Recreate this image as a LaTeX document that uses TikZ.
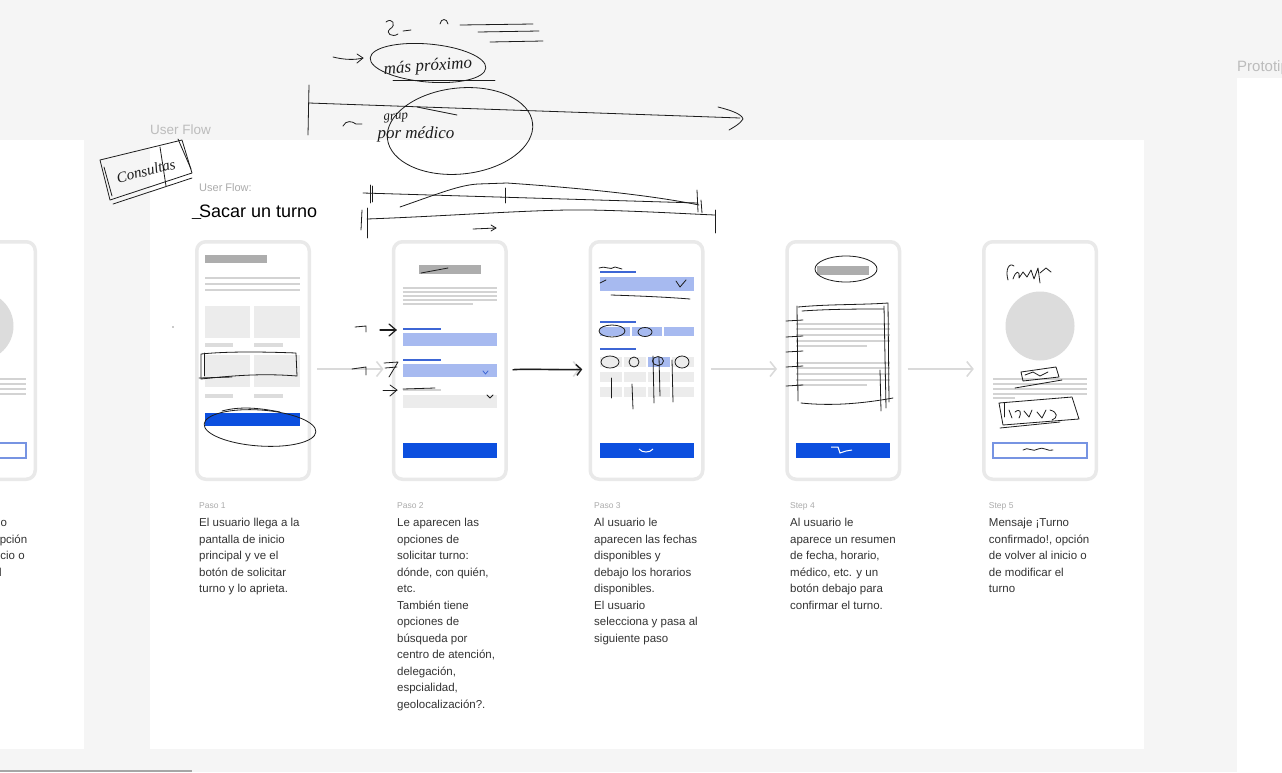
\documentclass[tikz,border=0pt]{standalone}
\usepackage{fontspec}
\setmainfont{Liberation Sans}
\newfontfamily\handfont{Liberation Serif}
\usetikzlibrary{positioning,arrows.meta,calc}
\definecolor{lienzo}{HTML}{F5F5F5}
\definecolor{borde}{HTML}{E9E9E9}
\definecolor{barra}{HTML}{ADADAD}
\definecolor{linea}{HTML}{D3D3D3}
\definecolor{caja}{HTML}{ECECEC}
\definecolor{azul}{HTML}{0C4FDF}
\definecolor{celeste}{HTML}{A7BAF0}
\definecolor{azulrotulo}{HTML}{3D66D5}
\definecolor{cuerpo}{HTML}{333333}
\definecolor{tenue}{HTML}{ABABAB}
\definecolor{flecha}{HTML}{DADADA}
\definecolor{tinta}{HTML}{1C1C1C}
\definecolor{circulo}{HTML}{DCDCDC}

\begin{document}
\begin{tikzpicture}[x=1pt,y=-1pt,
phone/.style={draw=borde,line width=3.5pt,rounded corners=9pt,fill=white,minimum width=112.5pt,minimum height=237.5pt,inner sep=0pt,outer sep=0pt},
flow/.style={-{Straight Barb[length=6pt,width=15pt]},line width=1.5pt,flecha,shorten <=8pt,shorten >=10pt},
pasolbl/.style={inner sep=0pt,anchor=base west,text=tenue,font=\fontsize{8.5}{10}\selectfont},
desc/.style={inner sep=0pt,anchor=north west,align=left,text=cuerpo,font=\fontsize{11.5}{16.5}\selectfont},
ink/.style={draw=tinta,line width=0.8pt,line cap=round,line join=round},
hand/.style={inner sep=0pt,text=tinta,font=\handfont\itshape\fontsize{17}{17}\selectfont},
fila/.style={draw=linea,line width=1.6pt}]
\clip (0,0) rectangle (1282,772);
\fill[lienzo] (0,0) rectangle (1282,772);
% marcos
\fill[white] (0,140) rectangle (84,749);
\fill[white] (150,140) rectangle (1144,749);
\fill[white] (1237,78) rectangle (1282,772);
\fill[gray!70] (0,770) rectangle (192,772);
\node[inner sep=0pt,anchor=base west,text=tenue!80,font=\fontsize{13.5}{14}\selectfont] (marco) at (150,134) {User Flow};
\node[inner sep=0pt,anchor=base west,text=tenue!80,font=\fontsize{15}{16}\selectfont] (proto) at (1237,71) {Prototipo};
\node[inner sep=0pt,anchor=base west,text=tenue,font=\fontsize{11}{12}\selectfont] (sub) at (199,191) {User Flow:};
\node[inner sep=0pt,anchor=base west,font=\fontsize{18}{20}\selectfont] (titulo) at (199,217) {Sacar un turno};

% pantallas
\node[phone] (s0) at (-21,360.5) {};
\node[phone] (s1) at (253,360.5) {};
\node[phone,right=84.25pt of s1] (s2) {};
\node[phone,right=84.25pt of s2] (s3) {};
\node[phone,right=84.25pt of s3] (s4) {};
\node[phone,right=84.25pt of s4] (s5) {};

\begin{scope}[shift={(s1.center)}]
\fill[barra] (-48,-105.5) rectangle (14,-97.5);
\foreach \y in {-82.5,-76.5,-70.5} \draw[fila,line width=2pt] (-48,\y) -- (47,\y);
\foreach \y in {-54.5,-5.5} {\fill[caja] (-48,\y) rectangle (-3,\y+32); \fill[caja] (1,\y) rectangle (47,\y+32);}
\foreach \y in {-17.5,33.5} {\fill[linea!80] (-48,\y) rectangle (-20,\y+4); \fill[linea!80] (1,\y) rectangle (30,\y+4);}
\fill[azul] (-48,52.5) rectangle (47,65.5);
\end{scope}

\begin{scope}[shift={(s2.center)}]
\fill[barra] (-31,-95.5) rectangle (31,-86.5);
\foreach \y in {-72.5,-68.5,-64.5,-60.5} \draw[fila] (-47,\y) -- (47,\y);
\draw[fila] (-47,-56.5) -- (23,-56.5);
\fill[azulrotulo] (-47,-32.5) rectangle (-9,-30.5);
\fill[celeste] (-47,-27.5) rectangle (47,-14.5);
\fill[azulrotulo] (-47,-1.5) rectangle (-9,0.5);
\fill[celeste] (-47,3.5) rectangle (47,16.5);
\fill[linea] (-47,28.5) rectangle (-9,30.5);
\fill[caja] (-47,34.5) rectangle (47,47.5);
\fill[azul] (-47,82.5) rectangle (47,97.5);
\end{scope}

\begin{scope}[shift={(s3.center)}]
\fill[azulrotulo] (-47,-89.5) rectangle (-11,-87.5);
\fill[celeste] (-47,-83.5) rectangle (47,-69.5);
\fill[azulrotulo] (-47,-39.5) rectangle (-11,-37.5);
\foreach \a/\b in {-47/-17,-15/15,17/47} \fill[celeste] (\a,-33.5) rectangle (\b,-24.5);
\fill[azulrotulo] (-47,-12.5) rectangle (-11,-10.5);
\foreach \a in {-47,-23,1,25} \foreach \y in {-3.5,11.5,26.5} \fill[caja] (\a,\y) rectangle (\a+22,\y+10);
\fill[celeste] (1,-3.5) rectangle (23,6.5);
\fill[azul] (-47,82.5) rectangle (47,97.5);
\end{scope}

\begin{scope}[shift={(s4.center)}]
\fill[barra] (-26,-94.5) rectangle (26,-85.5);
\foreach \y in {-36.5,-31.5,-25.5,-19.5,2.5,7.5,13.5,19.5} \draw[fila] (-47,\y) -- (47,\y);
\foreach \y in {-14.5,24.5} \draw[fila] (-47,\y) -- (24,\y);
\fill[azul] (-47,82.5) rectangle (47,97.5);
\end{scope}

\foreach \c in {s0,s5} {
\begin{scope}[shift={(\c.center)}]
\fill[circulo] (0,-34.5) circle (34.5);
\foreach \y in {18.5,23.5,28.5,33.5} \draw[fila] (-47,\y) -- (47,\y);
\draw[fila] (-47,37.5) -- (-25,37.5);
\draw[azulrotulo!70,line width=1.2pt,fill=white] (-47,82.5) rectangle (47,97.5);
\end{scope}}

% flechas del flujo
\draw[flow] ([yshift=-8.5pt]s1.east) -- ([yshift=-8.5pt]s2.west);
\draw[flow] ([yshift=-8.5pt]s2.east) -- ([yshift=-8.5pt]s3.west);
\draw[flow] ([yshift=-8.5pt]s3.east) -- ([yshift=-8.5pt]s4.west);
\draw[flow] ([yshift=-8.5pt]s4.east) -- ([yshift=-8.5pt]s5.west);

% textos
\node[desc] (d0) at ($(s0.south west)+(4,38.75)$) {Mensaje ¡Turno\\confirmado!, opción\\de volver al inicio o\\de modificar el\\turno};
\node[pasolbl] (p1) at ($(s1.south west)+(2.25,28.75)$) {Paso 1};
\node[desc] (d1) at ($(s1.south west)+(2.25,38.75)$) {El usuario llega a la\\pantalla de inicio\\principal y ve el\\botón de solicitar\\turno y lo aprieta.};
\node[pasolbl] (p2) at ($(s2.south west)+(3.5,28.75)$) {Paso 2};
\node[desc] (d2) at ($(s2.south west)+(3.5,38.75)$) {Le aparecen las\\opciones de\\solicitar turno:\\dónde, con quién,\\etc.\\También tiene\\opciones de\\búsqueda por\\centro de atención,\\delegación,\\espcialidad,\\geolocalización?.};
\node[pasolbl] (p3) at ($(s3.south west)+(3.75,28.75)$) {Paso 3};
\node[desc] (d3) at ($(s3.south west)+(3.75,38.75)$) {Al usuario le\\aparecen las fechas\\disponibles y\\debajo los horarios\\disponibles.\\El usuario\\selecciona y pasa al\\siguiente paso};
\node[pasolbl] (p4) at ($(s4.south west)+(3,28.75)$) {Step 4};
\node[desc] (d4) at ($(s4.south west)+(3,38.75)$) {Al usuario le\\aparece un resumen\\de fecha, horario,\\médico, etc. y un\\botón debajo para\\confirmar el turno.};
\node[pasolbl] (p5) at ($(s5.south west)+(5,28.75)$) {Step 5};
\node[desc] (d5) at ($(s5.south west)+(5,38.75)$) {Mensaje ¡Turno\\confirmado!, opción\\de volver al inicio o\\de modificar el\\turno};

% notas a mano arriba
\draw[ink] (386,22) .. controls (392,17) and (397,25) .. (390,29) .. controls (385,33) and (392,38) .. (398,34);
\draw[ink] (403,31) -- (411,30);
\draw[ink] (440,24) .. controls (441,18) and (447,18) .. (448,24);
\draw[ink] (460,25) -- (533,24);
\draw[ink] (478,32) -- (539,31);
\draw[ink] (490,42) -- (543,41);
\draw[ink] (333,57) .. controls (345,60) and (355,60) .. (363,58);
\draw[ink] (357,54) -- (363,58) -- (357,63);
\draw[ink,rotate around={-5:(428,63)}] (428,63) ellipse (58 and 19);
\node[hand,rotate=4] (prox) at (428,67) {más próximo};
\draw[ink] (393,80) -- (495,80);
\draw[ink] (309,85) -- (308,135);
\draw[ink] (309,103) .. controls (450,108) and (600,113) .. (740,118);
\draw[ink] (718,107) .. controls (730,110) and (742,114) .. (743,119) .. controls (740,124) and (734,127) .. (729,130);
\draw[ink,rotate around={6:(460,131)}] (460,131) ellipse (73 and 43);
\draw[ink] (417,107) -- (457,115);
\draw[ink] (343,126) .. controls (346,120) and (352,121) .. (356,124) -- (362,124);
\node[hand,font=\handfont\itshape\fontsize{13}{13}\selectfont,rotate=6] (grup) at (396,118) {grup};
\node[hand] (medico) at (416,134) {por médico};

% linea de tiempo a mano
\draw[ink] (370,185) -- (370,203);
\draw[ink] (372,186) -- (372,202);
\draw[ink] (505,188) -- (505,203);
\draw[ink] (697,190) -- (698,212);
\draw[ink] (701,200) -- (702,213);
\draw[ink] (362,210) -- (361,230);
\draw[ink] (367,208) -- (367,238);
\draw[ink] (715,210) -- (715,233);
\draw[ink] (363,193) -- (698,203);
\draw[ink] (400,207) .. controls (440,193) and (460,185) .. (478,184) -- (507,183) .. controls (580,188) and (650,195) .. (699,205);
\draw[ink] (367,219) .. controls (450,216) and (540,209) .. (590,210) .. controls (640,211) and (690,214) .. (715,215);
\draw[ink] (473,229) -- (496,228);
\draw[ink] (491,225) -- (496,228) -- (491,231);

% nota Consultas
\draw[ink] (100,160) -- (182,140) -- (192,173) -- (110,200) -- cycle;
\draw[ink] (104,167) -- (112,196);
\draw[ink] (160,147) -- (166,186);
\draw[ink] (178,139) -- (191,169);
\draw[ink] (113,204) -- (192,178);
\node[hand,font=\handfont\itshape\fontsize{15}{15}\selectfont,rotate=14] (nota) at (146,171) {Consultas};
\draw[ink] (192,218) -- (201,218);
\fill[tinta] (173,327) circle (0.7);

% marcas sobre pantalla 1
\draw[ink] (201,354) .. controls (230,351) and (270,352) .. (296,353) -- (297,376) .. controls (260,373) and (230,376) .. (201,379) -- cycle;
\draw[ink] (199,378) -- (232,377);
\draw[ink] (204,353) -- (204,376);
\draw[ink,rotate around={-4:(260,428)}] (260,428) ellipse (56 and 18);
\draw[ink] (222,411) .. controls (240,406) and (260,408) .. (280,412);

% marcas sobre pantalla 2
\draw[ink] (421,273) -- (448,268);
\draw[ink] (355,327) -- (366,326) -- (366,332);
\draw[ink,line width=1.2pt] (380,330) -- (396,330);
\draw[ink,line width=1.2pt] (389,324) -- (396,330) -- (389,336);
\draw[ink] (352,369) -- (366,367) -- (366,375);
\draw[ink] (384,363) -- (398,362) -- (389,377);
\draw[ink] (385,368) -- (397,367);
\draw[ink] (383,390) -- (397,390);
\draw[ink] (390,385) -- (397,390) -- (390,396);
\draw[ink] (403,389) -- (435,388);
\draw[ink,azulrotulo] (483,371) -- (485.5,374) -- (488,371);
\draw[ink] (487,395) -- (490,398) -- (493,395);
\draw[ink,line width=1.4pt,-{Straight Barb[length=5pt,width=11pt]},shorten <=7pt,shorten >=8pt] ([yshift=-10pt]s2.east) .. controls +(20,-2) and +(-20,2) .. ([yshift=-8pt]s3.west);

% marcas sobre pantalla 3
\draw[ink] (599,268) .. controls (605,265) and (610,271) .. (615,267) -- (622,269);
\draw[ink] (600,283) -- (606,280);
\draw[ink] (676,281) -- (680,287) -- (686,280);
\draw[ink] (611,295) .. controls (640,296) and (665,297) .. (690,299);
\draw[ink] (612,331) ellipse (13 and 6);
\draw[ink] (645,332) ellipse (7 and 4.5);
\draw[ink] (610,362) ellipse (9 and 6);
\draw[ink] (634,362) ellipse (5 and 5);
\draw[ink] (658,361) ellipse (5.5 and 4.5);
\draw[ink] (682,362) ellipse (7 and 6);
\draw[ink] (611,378) -- (611,398);
\draw[ink] (632,384) -- (633,409);
\draw[ink] (653,356) -- (654,403);
\draw[ink] (659,357) -- (660,396);
\draw[ink] (672,360) -- (673,402);
\draw[white,line width=1pt] (639,449) .. controls (642,453) and (650,453) .. (653,449);

% marcas sobre pantalla 4
\draw[ink] (846,269) ellipse (31 and 13);
\draw[ink] (798,307) .. controls (830,304) and (860,305) .. (888,303) -- (889,402);
\draw[ink] (884,306) -- (886,408);
\draw[ink] (797,306) -- (798,401);
\draw[ink] (801,403) .. controls (830,406) and (860,404) .. (893,398);
\draw[ink] (802,311) .. controls (830,309) and (860,309) .. (884,309);
\draw[ink] (880,370) -- (881,411);
\foreach \y in {321,337,352,367,386} \draw[ink] (786,\y) -- (803,\y-1);
\draw[white,line width=1pt] (831,447) -- (838,447) -- (840,453) -- (846,451) -- (852,450);

% marcas sobre pantalla 5
\draw[ink] (1008,280) .. controls (1005,270) and (1009,262) .. (1014,266);
\draw[ink] (1013,279) .. controls (1016,270) and (1020,270) .. (1019,278) -- (1023,272) -- (1027,277) -- (1031,270) -- (1034,279) -- (1038,268) -- (1040,283);
\draw[ink] (1040,273) -- (1046,268) -- (1051,272);
\draw[ink] (1021,372) -- (1056,367) -- (1059,377) -- (1023,381) -- cycle;
\draw[ink] (1025,375) -- (1033,372) -- (1040,376) -- (1048,372);
\draw[ink] (1015,388) -- (1062,380);
\draw[ink] (999,403) -- (1072,397) -- (1079,419) -- (1003,425) -- cycle;
\draw[ink] (1004,403) -- (1004,417);
\draw[ink] (1009,410) -- (1012,418);
\draw[ink] (1015,412) .. controls (1020,408) and (1022,412) .. (1019,418);
\draw[ink] (1024,411) -- (1029,417) -- (1032,410);
\draw[ink] (1037,412) -- (1042,418) -- (1046,410);
\draw[ink] (1050,410) .. controls (1058,412) and (1058,418) .. (1052,420);
\draw[ink] (1000,428) -- (1060,422);
\draw[ink] (1023,450) .. controls (1028,446) and (1033,453) .. (1038,449) .. controls (1043,446) and (1048,452) .. (1053,450);
\end{tikzpicture}
\end{document}
